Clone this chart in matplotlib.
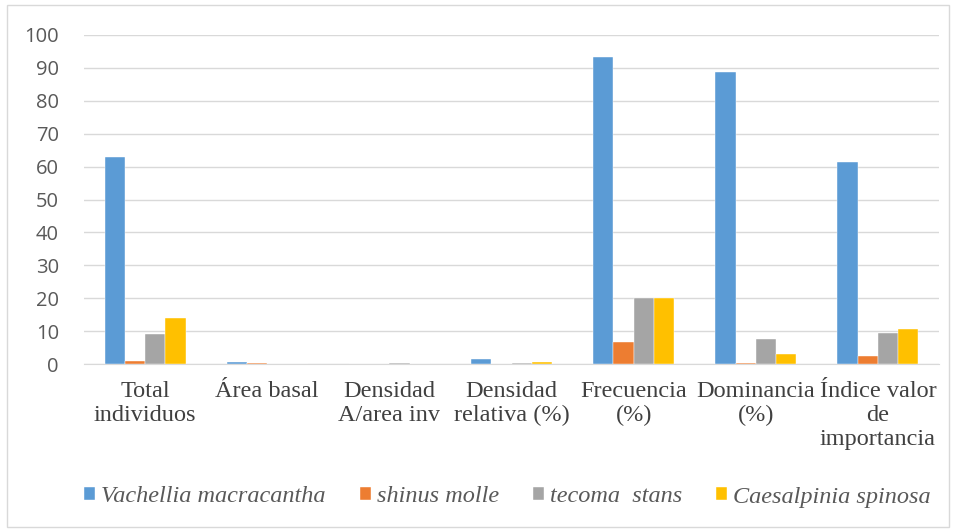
import numpy as np
import matplotlib.pyplot as plt
from matplotlib.patches import Rectangle

categorias = ['Total\nindividuos', 'Área basal', 'Densidad\nA/area inv',
              'Densidad\nrelativa (%)', 'Frecuencia\n(%)', 'Dominancia\n(%)',
              'Índice valor\nde\nimportancia']
especies = ['Vachellia macracantha', 'shinus molle', 'tecoma  stans', 'Caesalpinia spinosa']
colores = ['#5B9BD5', '#ED7D31', '#A5A5A5', '#FFC000']

vachellia = [63, 0.7, 0.0, 1.4, 93.3, 88.7, 61.3]
shinus = [1.0, 0.4, 0.0, 0.0, 6.7, 0.3, 2.3]
tecoma = [9.0, 0.0, 0.3, 0.3, 20.0, 7.7, 9.3]
caesalpinia = [14.0, 0.0, 0.0, 0.6, 20.0, 3.0, 10.5]
series = [vachellia, shinus, tecoma, caesalpinia]

fig = plt.figure(figsize=(9.56, 5.31), dpi=100)
ax = fig.add_axes([84/956, 1 - 364/531, 855/956, 329/531])

x = np.arange(len(categorias))
w = 0.166
for i, (vals, c, lab) in enumerate(zip(series, colores, especies)):
    ax.bar(x + (i - 1.5) * w, vals, w, color=c, label=lab, zorder=3,
           edgecolor='white', linewidth=0.3)

ax.set_xlim(-0.5, len(categorias) - 0.5)
ax.set_ylim(0, 100)
ax.set_yticks(range(0, 101, 10))
ax.yaxis.grid(True, color='#D9D9D9', linewidth=1, zorder=0)
for s in ['top', 'right', 'left']:
    ax.spines[s].set_visible(False)
ax.spines['bottom'].set_color('#D9D9D9')
ax.tick_params(axis='both', length=0)
ax.tick_params(axis='y', labelsize=14.5, labelcolor='#595959', pad=18)
ax.set_xticks(x)
ax.set_xticklabels(categorias, fontfamily='Liberation Serif', fontsize=17.5,
                   color='#404040', linespacing=1.2)
ax.tick_params(axis='x', pad=12)
for t in ax.get_yticklabels():
    t.set_fontfamily('Open Sans')

leg = fig.legend(loc='center', bbox_to_anchor=(0.531, 1 - 497/531), ncol=4,
                 frameon=False, prop={'family': 'Liberation Serif', 'style': 'italic', 'size': 17.5},
                 handlelength=0.45, handleheight=0.45, handletextpad=0.25, columnspacing=1.4)
for t in leg.get_texts():
    t.set_color('#595959')

fig.patches.append(Rectangle((7/956, 4/531), 942/956, 522/531, transform=fig.transFigure,
                             fill=False, edgecolor='#D9D9D9', linewidth=1))

fig.savefig('out.png', dpi=100, facecolor='white')
